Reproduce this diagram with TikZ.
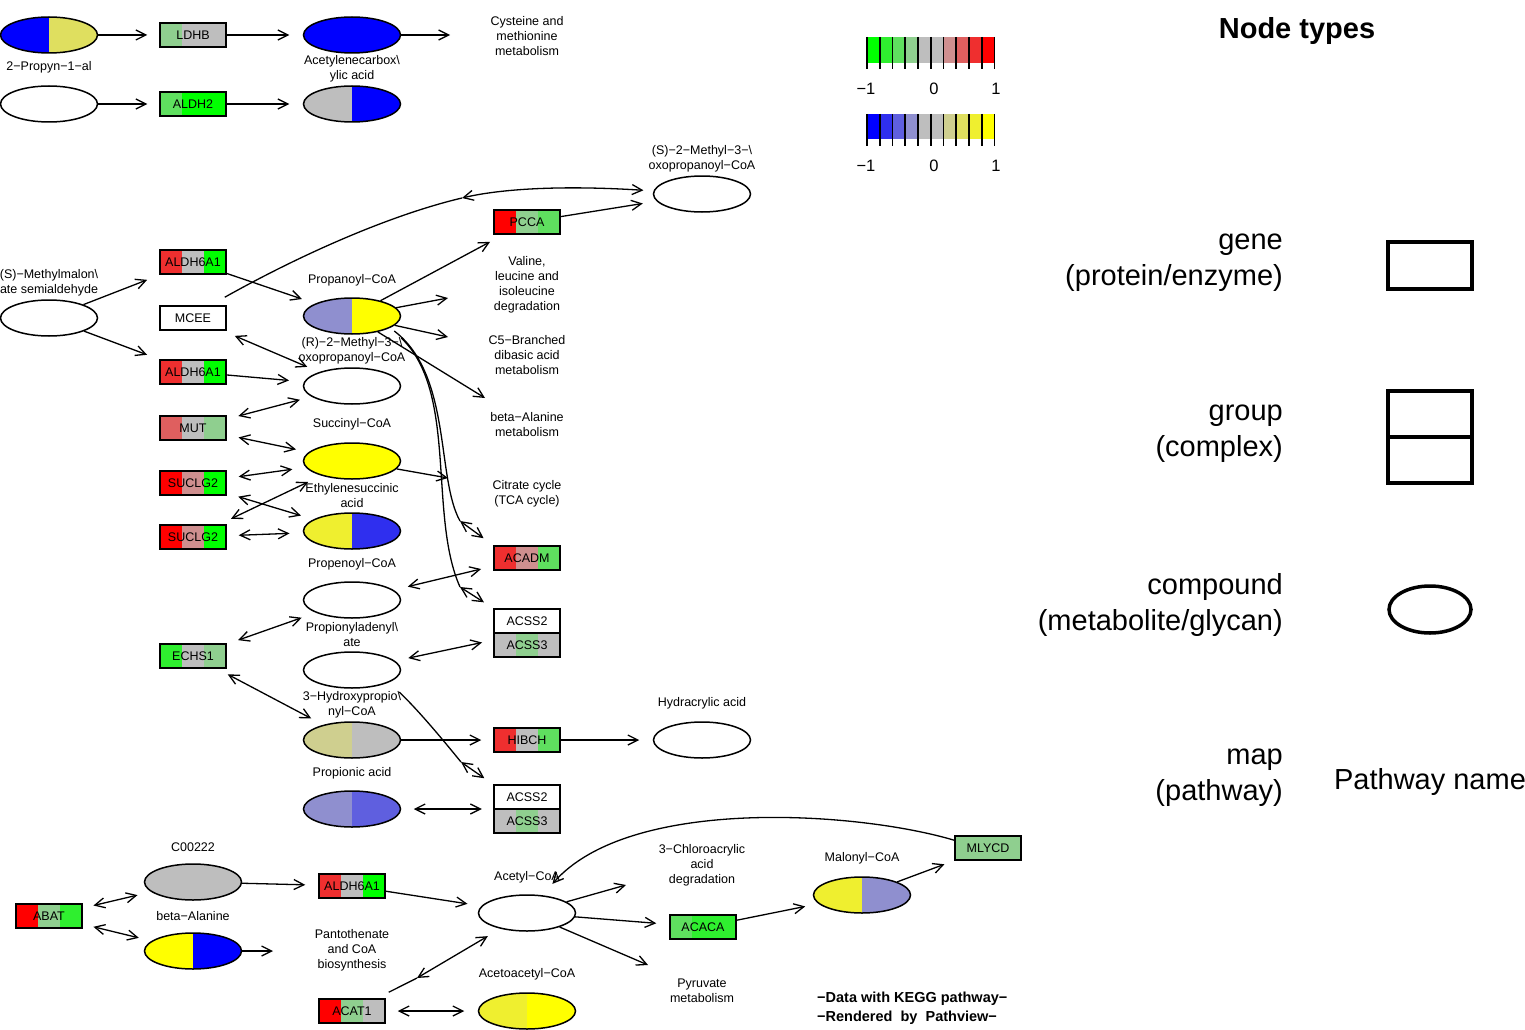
\documentclass[tikz,border=0pt]{standalone}
\usepackage{fontspec}
\setmainfont{Liberation Sans}
\usetikzlibrary{arrows.meta,shapes.geometric,calc}
\definecolor{gA}{HTML}{00FF00}
\definecolor{gB}{HTML}{2FEF2F}
\definecolor{gC}{HTML}{5FDF5F}
\definecolor{gD}{HTML}{8FCF8F}
\definecolor{gy}{HTML}{BEBEBE}
\definecolor{rD}{HTML}{CF8F8F}
\definecolor{rC}{HTML}{DF5F5F}
\definecolor{rB}{HTML}{EF2F2F}
\definecolor{rA}{HTML}{FF0000}
\definecolor{bA}{HTML}{0000FF}
\definecolor{bB}{HTML}{2F2FEF}
\definecolor{bC}{HTML}{5F5FDF}
\definecolor{bD}{HTML}{8F8FCF}
\definecolor{yD}{HTML}{CFCF8F}
\definecolor{yC}{HTML}{DFDF5F}
\definecolor{yB}{HTML}{EFEF2F}
\definecolor{yA}{HTML}{FFFF00}
\tikzset{
  lbl/.style={font=\fontsize{12.5}{15}\selectfont, align=center, inner sep=0pt, yshift=-1pt},
  gbox/.style n args={3}{rectangle, draw, line width=1.5pt, minimum width=66pt, minimum height=24pt, inner sep=0pt,
    font=\fontsize{12.5}{15}\selectfont,
    path picture={
      \fill[#1] (path picture bounding box.north west) rectangle ++(22pt,-24pt);
      \fill[#2] ([xshift=22pt]path picture bounding box.north west) rectangle ++(22pt,-24pt);
      \fill[#3] ([xshift=44pt]path picture bounding box.north west) rectangle ++(22pt,-24pt);}},
  cpd/.style 2 args={ellipse, draw, line width=1.5pt, minimum width=97pt, minimum height=36pt, inner sep=0pt,
    path picture={
      \fill[#1] (path picture bounding box.north west) rectangle (path picture bounding box.south);
      \fill[#2] (path picture bounding box.north) rectangle (path picture bounding box.south east);}},
  ln/.style={line width=1.3pt},
  arr/.style={line width=1.3pt, -{Straight Barb[length=10pt,width=10pt]}},
  darr/.style={line width=1.3pt, {Straight Barb[length=10pt,width=10pt]}-{Straight Barb[length=10pt,width=10pt]}},
  leg/.style={font=\fontsize{29}{36}\selectfont, align=right, anchor=east, inner sep=0pt},
}
\begin{document}
\begin{tikzpicture}[x=1pt,y=-1pt]
\useasboundingbox (0,0) rectangle (1525,1030);
\fill[white] (0,0) rectangle (1525,1030);

% ---------- top rows
\node[cpd={bA}{yC}] (propynal) at (49,35) {};
\node[gbox={gD}{gy}{gy}] (ldhb) at (193,35) {LDHB};
\node[cpd={bA}{bA}] (acetcarb) at (352,35) {};
\node[cpd={white}{white}] (cpdx) at (49,104) {};
\node[gbox={gC}{gA}{gA}] (aldh2) at (193,104) {ALDH2};
\node[cpd={gy}{bA}] (cpdy) at (352,104) {};

\node[lbl] (l1) at (49,66) {2−Propyn−1−al};
\node[lbl] (l2) at (352,67.5) {Acetylenecarbox\textbackslash\\ylic acid};
\node[lbl] (l3) at (527,35) {Cysteine and\\methionine\\metabolism};

% ---------- middle
\node[cpd={white}{white}] (s2m3) at (702,194) {};
\node[gbox={rA}{gD}{gC}] (pcca) at (527,222) {PCCA};
\node[cpd={white}{white}] (mmsa) at (49,318) {};
\node[gbox={rB}{gy}{gA}] (aldhA) at (193,262) {ALDH6A1};
\node[gbox={white}{white}{white}] (mcee) at (193,318) {MCEE};
\node[gbox={rB}{gy}{gA}] (aldhB) at (193,372) {ALDH6A1};
\node[cpd={bD}{yA}] (propcoa) at (352,316) {};
\node[cpd={white}{white}] (r2m3) at (352,386) {};
\node[gbox={rC}{gy}{gD}] (mut) at (193,428) {MUT};
\node[cpd={yA}{yA}] (succ) at (352,461) {};
\node[gbox={rA}{rD}{gA}] (suclA) at (193,483) {SUCLG2};
\node[cpd={yB}{bB}] (ethsucc) at (352,531) {};
\node[gbox={rA}{rD}{gA}] (suclB) at (193,537) {SUCLG2};
\node[gbox={rB}{rD}{gC}] (acadm) at (527,558) {ACADM};
\node[cpd={white}{white}] (propenoyl) at (352,600) {};
\node[gbox={white}{white}{white}] (acss2a) at (527,621) {ACSS2};
\node[gbox={gy}{gD}{gy}] (acss3a) at (527,645) {ACSS3};
\node[minimum width=66pt, minimum height=48pt, inner sep=0pt] (grpA) at (527,633) {};
\node[gbox={gB}{gy}{gD}] (echs1) at (193,656) {ECHS1};
\node[cpd={white}{white}] (propad) at (352,670) {};
\node[cpd={yD}{gy}] (hpcoa) at (352,740) {};
\node[gbox={rB}{gy}{gC}] (hibch) at (527,740) {HIBCH};
\node[cpd={white}{white}] (hydra) at (702,740) {};
\node[cpd={bD}{bC}] (propac) at (352,809) {};
\node[gbox={white}{white}{white}] (acss2b) at (527,797) {ACSS2};
\node[gbox={gy}{gD}{gy}] (acss3b) at (527,821) {ACSS3};
\node[minimum width=66pt, minimum height=48pt, inner sep=0pt] (grpB) at (527,809) {};

\node[lbl] (l4) at (702,157.5) {(S)−2−Methyl−3−\textbackslash\\oxopropanoyl−CoA};
\node[lbl] (l5) at (49,281.5) {(S)−Methylmalon\textbackslash\\ate semialdehyde};
\node[lbl] (l6) at (352,279) {Propanoyl−CoA};
\node[lbl] (l7) at (352,349.5) {(R)−2−Methyl−3−\textbackslash\\oxopropanoyl−CoA};
\node[lbl] (l8) at (527,283.5) {Valine,\\leucine and\\isoleucine\\degradation};
\node[lbl] (l9) at (527,354) {C5−Branched\\dibasic acid\\metabolism};
\node[lbl] (l10) at (527,423.5) {beta−Alanine\\metabolism};
\node[lbl] (l11) at (352,423) {Succinyl−CoA};
\node[lbl] (l12) at (352,494.5) {Ethylenesuccinic\\acid};
\node[lbl] (l13) at (527,492.5) {Citrate cycle\\(TCA cycle)};
\node[lbl] (l14) at (352,563) {Propenoyl−CoA};
\node[lbl] (l15) at (352,633.5) {Propionyladenyl\textbackslash\\ate};
\node[lbl] (l16) at (352,703.5) {3−Hydroxypropio\textbackslash\\nyl−CoA};
\node[lbl] (l17) at (702,702) {Hydracrylic acid};
\node[lbl] (l18) at (352,772) {Propionic acid};

% ---------- bottom
\node[cpd={gy}{gy}] (c00222) at (193,882) {};
\node[gbox={rA}{gD}{gB}] (abat) at (49,916) {ABAT};
\node[cpd={yA}{bA}] (bala) at (193,951) {};
\node[gbox={rB}{gy}{gA}] (aldhC) at (352,886) {ALDH6A1};
\node[cpd={white}{white}] (acetyl) at (527,913) {};
\node[gbox={rA}{gD}{gy}] (acat1) at (352,1011) {ACAT1};
\node[cpd={yB}{yA}] (acetoac) at (527,1011) {};
\node[gbox={gC}{gB}{gB}] (acaca) at (703,927) {ACACA};
\node[cpd={yB}{bD}] (malonyl) at (862,895) {};
\node[gbox={gD}{gD}{gD}] (mlycd) at (988,848) {MLYCD};

\node[lbl] (l19) at (193,846) {C00222};
\node[lbl] (l20) at (193,915) {beta−Alanine};
\node[lbl] (l21) at (352,949) {Pantothenate\\and CoA\\biosynthesis};
\node[lbl] (l22) at (527,876) {Acetyl−CoA};
\node[lbl] (l23) at (527,973) {Acetoacetyl−CoA};
\node[lbl] (l24) at (702,864) {3−Chloroacrylic\\acid\\degradation};
\node[lbl] (l25) at (702,989.5) {Pyruvate\\metabolism};
\node[lbl] (l26) at (862,857) {Malonyl−CoA};
\node[font=\bfseries\fontsize{14.5}{18.5}\selectfont, align=left, anchor=west, inner sep=0pt] (l27) at (817,1008) {−Data with KEGG pathway−\\−Rendered\ \ by\ \ Pathview−};

% ---------- connectors top
\coordinate (cysA) at (450,35);
\draw[arr, shorten >=12pt] (propynal) -- (ldhb);
\draw[arr, shorten >=13.5pt] (ldhb) -- (acetcarb);
\draw[arr] (acetcarb) -- (cysA);
\draw[arr, shorten >=12pt] (cpdx) -- (aldh2);
\draw[arr, shorten >=13.5pt] (aldh2) -- (cpdy);

% ---------- connectors middle
\draw[arr, shorten >=14pt] (mmsa) -- (aldhA);
\draw[arr, shorten >=13pt] (mmsa) -- (aldhB);
\draw[arr, shorten >=14pt] (aldhA) -- (propcoa);
\draw[arr, shorten >=15pt] (aldhB) -- (r2m3);
\draw[darr, shorten <=13pt, shorten >=13pt] (mcee) -- (r2m3);
\coordinate (m1) at (462,198);
\draw[ln] ([shift={(-2pt,8pt)}]mcee.north east) .. controls (300,255) and (390,215) .. (m1);
\draw[darr, shorten >=10pt] (m1) .. controls (500,189) and (560,185) .. (s2m3);
\draw[arr, shorten >=14pt] (pcca) -- (s2m3);
\draw[arr, shorten >=15pt] (propcoa) -- (pcca);
\coordinate (valA) at (448,298);
\coordinate (c5A) at (448,337);
\coordinate (balA) at (485,398);
\draw[arr] (propcoa) -- (valA);
\draw[arr] (propcoa) -- (c5A);
\draw[arr] (propcoa) -- (balA);
\coordinate (mA) at (460,521);
\coordinate (mB) at (460,587);
\draw[ln] ([shift={(-7pt,-15pt)}]propcoa.east) .. controls (452,375) and (436,478) .. (mA);
\draw[darr, shorten >=12pt] (mA) -- (acadm.north west);
\draw[ln] ([shift={(0pt,-22pt)}]propcoa.east) .. controls (458,392) and (428,515) .. (mB);
\draw[darr, shorten >=11pt] (mB) -- (acss2a.north west);

\draw[darr, shorten <=12pt, shorten >=12pt] (mut) -- (r2m3);
\draw[darr, shorten <=12pt, shorten >=13pt] (mut) -- (succ);
\draw[darr, shorten <=12pt, shorten >=13.5pt] (suclA) -- (succ);
\draw[darr, shorten <=12pt, shorten >=13pt] (suclA) -- (ethsucc);
\draw[darr, shorten <=12.5pt, shorten >=14.5pt] (suclB) -- (succ);
\draw[darr, shorten <=12pt, shorten >=13.5pt] (suclB) -- (ethsucc);
\coordinate (citA) at (448,478);
\draw[arr] (succ) -- (citA);
\draw[darr, shorten <=12.5pt, shorten >=14.5pt] (acadm) -- (propenoyl);
\draw[darr, shorten <=12pt, shorten >=15pt] (echs1) -- (propenoyl);
\draw[darr, shorten <=12pt, shorten >=13.5pt] (grpA) -- (propad);
\draw[darr, shorten <=12pt, shorten >=13.5pt] (echs1) -- (hpcoa);
\draw[arr, shorten >=12pt] (hpcoa) -- (hibch);
\draw[arr, shorten >=13.5pt] (hibch) -- (hydra);
\draw[darr, shorten <=12.5pt, shorten >=12pt] (propac) -- (grpB);
\coordinate (mC) at (461,762);
\draw[ln] ([shift={(-2pt,-22pt)}]propad.east) .. controls (420,712) and (443,740) .. (mC);
\draw[darr, shorten >=11.5pt] (mC) -- (grpB.north west);

% ---------- connectors bottom
\draw[darr, shorten <=11pt, shorten >=14pt] (abat) -- (c00222);
\draw[darr, shorten <=11pt, shorten >=13pt] (abat) -- (bala);
\draw[arr, shorten >=13pt] (c00222) -- (aldhC);
\coordinate (pantA) at (273,951);
\draw[arr] (bala) -- (pantA);
\draw[arr, shorten >=14pt] (aldhC) -- (acetyl);
\coordinate (m2) at (417,978);
\draw[ln] ([shift={(3pt,6pt)}]acat1.north east) -- (m2);
\draw[darr, shorten >=14.5pt] (m2) -- (acetyl);
\draw[darr, shorten <=12pt, shorten >=13.5pt] (acat1) -- (acetoac);
\coordinate (chlA) at (626,885);
\coordinate (pyrA) at (648,965);
\draw[arr] (acetyl) -- (chlA);
\draw[arr, shorten >=13pt] (acetyl) -- (acaca);
\draw[arr] (acetyl) -- (pyrA);
\draw[arr, shorten >=13.5pt] (acaca) -- (malonyl);
\draw[arr, shorten >=10.5pt] (malonyl) -- (mlycd);
\draw[arr, shorten >=15pt] ([yshift=-5pt]mlycd.north west) .. controls (860,812) and (630,795) .. (acetyl);

% ---------- colour legend
\foreach \c [count=\i from 0] in {gA,gB,gC,gD,gy,gy,rD,rC,rB,rA}
  \fill[\c] ({867+\i*12.75},37) rectangle ({867+(\i+1)*12.75},63);
\foreach \c [count=\i from 0] in {bA,bB,bC,bD,gy,gy,yD,yC,yB,yA}
  \fill[\c] ({867+\i*12.75},114) rectangle ({867+(\i+1)*12.75},139);
\foreach \i in {0,...,10}{
  \draw[line width=1.8pt] ({867+\i*12.75},37) -- ({867+\i*12.75},69);
  \draw[line width=1.8pt] ({867+\i*12.75},114) -- ({867+\i*12.75},146);
}
\node[font=\fontsize{16.5}{20}\selectfont, inner sep=0pt] (k1) at (866,89) {−1};
\node[font=\fontsize{16.5}{20}\selectfont, inner sep=0pt] (k2) at (934,89) {0};
\node[font=\fontsize{16.5}{20}\selectfont, inner sep=0pt] (k3) at (996,89) {1};
\node[font=\fontsize{16.5}{20}\selectfont, inner sep=0pt] (k4) at (866,166) {−1};
\node[font=\fontsize{16.5}{20}\selectfont, inner sep=0pt] (k5) at (934,166) {0};
\node[font=\fontsize{16.5}{20}\selectfont, inner sep=0pt] (k6) at (996,166) {1};

% ---------- node type legend
\node[font=\bfseries\fontsize{29}{35}\selectfont, inner sep=0pt] (nt) at (1297,31) {Node types};
\node[leg] (lg1) at (1283,263) {gene\\(protein/enzyme)};
\node[draw, line width=3.5pt, minimum width=84pt, minimum height=47pt, inner sep=0pt] (lgb1) at (1430,265.5) {};
\node[leg] (lg2) at (1283,434) {group\\(complex)};
\node[draw, line width=3.5pt, minimum width=84pt, minimum height=46pt, inner sep=0pt] (lgb2) at (1430,414) {};
\node[draw, line width=3.5pt, minimum width=84pt, minimum height=46pt, inner sep=0pt] (lgb3) at (1430,460) {};
\node[leg] (lg3) at (1283,605) {compound\\(metabolite/glycan)};
\node[draw, ellipse, line width=3.5pt, minimum width=82pt, minimum height=47pt, inner sep=0pt] (lge) at (1430,609.5) {};
\node[leg] (lg4) at (1283,778) {map\\(pathway)};
\node[font=\fontsize{29}{35}\selectfont, inner sep=0pt] (lgp) at (1430,782) {Pathway name};
\end{tikzpicture}
\end{document}
